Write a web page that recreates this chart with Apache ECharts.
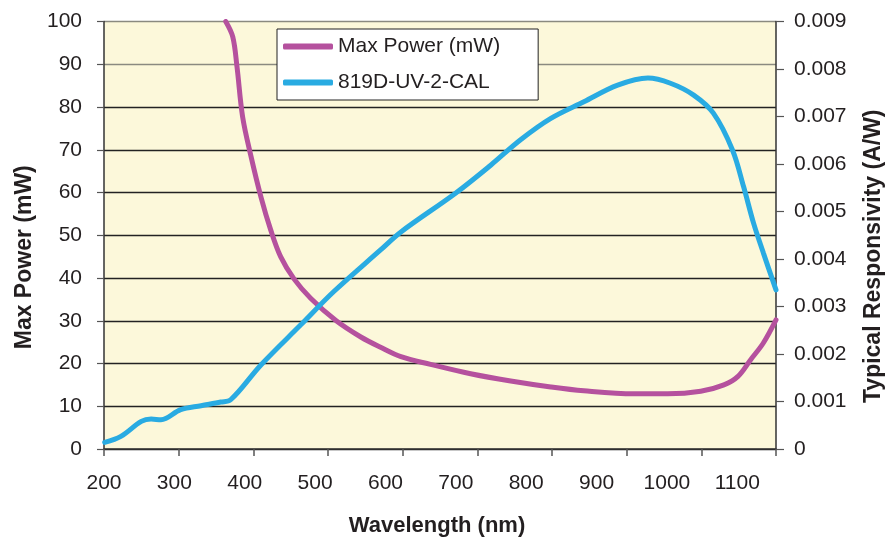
<!DOCTYPE html>
<html>
<head>
<meta charset="utf-8">
<script src="https://cdn.jsdelivr.net/npm/echarts@6/dist/echarts.min.js"></script>
<style>html,body{margin:0;padding:0;background:#fff}#c{width:893px;height:537px}</style>
</head>
<body>
<div id="c"></div>
<script>
// Wavelength (nm) samples and values
const maxPowerWavelength = [373, 383, 389, 397, 409, 423, 437, 451, 470, 494, 530, 565, 593, 622, 664, 721, 778, 835, 882, 953, 1001, 1048, 1081, 1101, 1119, 1137, 1155];
const maxPowerValues     = [100, 96.4, 89.4, 77.7, 68.4, 59.0, 51.2, 45.0, 39.8, 35.2, 30.0, 26.2, 23.8, 21.6, 19.8, 17.6, 15.9, 14.5, 13.6, 12.9, 12.9, 13.5, 15.0, 17.0, 20.9, 24.8, 30.2];

const respWavelength = [201, 224, 253, 267, 281, 309, 338, 366, 380, 423, 480, 527, 593, 622, 700, 750, 792, 835, 882, 930, 973, 1005, 1038, 1066, 1093, 1109, 1123, 1137, 1155];
const respValues     = [0.000139, 0.000265, 0.000581, 0.000631, 0.000616, 0.000827, 0.000911, 0.000989, 0.001037, 0.00177, 0.00262, 0.00332, 0.00419, 0.00457, 0.00539, 0.00598, 0.00651, 0.00696, 0.00731, 0.00766, 0.00781, 0.00770, 0.00745, 0.00707, 0.00630, 0.00552, 0.00476, 0.00413, 0.00335];

const seriesNames = ['Max Power (mW)', '819D-UV-2-CAL'];
const axisTitles = { x: 'Wavelength (nm)', left: 'Max Power (mW)', right: 'Typical Responsivity (A/W)' };

const FONT = "'Liberation Sans', Arial, sans-serif";
const TXT = '#231f20';

const chart = echarts.init(document.getElementById('c'), null, { renderer: 'canvas' });
const zip = (xs, ys) => xs.map((x, i) => [x, ys[i]]);

chart.setOption({
  animation: false,
  backgroundColor: '#ffffff',
  textStyle: { fontFamily: FONT, color: TXT },
  grid: {
    left: 104, right: 117, top: 21.5, bottom: 88,
    outerBoundsMode: 'none', containLabel: false,
    show: true, backgroundColor: '#FCF8DA', borderWidth: 0
  },
  legend: {
    orient: 'vertical',
    left: 277, top: 29,
    backgroundColor: '#ffffff',
    borderColor: '#222222', borderWidth: 1,
    padding: [5, 38, 5, 6],
    itemGap: 11,
    itemWidth: 50, itemHeight: 6,
    itemTextGap: 10,
    icon: 'roundRect',
    textStyle: { fontFamily: FONT, fontSize: 21, color: TXT, lineHeight: 25 },
    data: seriesNames
  },
  xAxis: [
    {
      type: 'value', min: 200, max: 1155, interval: 100,
      position: 'bottom',
      name: axisTitles.x, nameLocation: 'middle', nameGap: 66,
      nameTextStyle: { fontFamily: FONT, fontSize: 22, fontWeight: 'bold', color: TXT, padding: [0, 6, 0, 0] },
      axisLine: { show: true, lineStyle: { color: '#333', width: 1.5 } },
      axisTick: { show: false },
      splitLine: { show: false },
      axisLabel: { show: true, showMaxLabel: false, margin: 24, fontFamily: FONT, fontSize: 21, color: TXT,
                   formatter: v => String(v) }
    },
    {
      type: 'value', min: 0, max: 9, interval: 1,
      position: 'bottom',
      axisLine: { show: false },
      axisTick: { show: true, length: 7, lineStyle: { color: '#555', width: 1.5 } },
      axisLabel: { show: false },
      splitLine: { show: false }
    }
  ],
  yAxis: [
    {
      type: 'value', min: 0, max: 100, interval: 10,
      position: 'left',
      name: axisTitles.left, nameLocation: 'middle', nameGap: 67,
      nameTextStyle: { fontFamily: FONT, fontSize: 23, fontWeight: 'bold', color: TXT, padding: [0, 44, 0, 0] },
      axisLine: { show: true, lineStyle: { color: '#333', width: 1.5 } },
      axisTick: { show: true, length: 7, lineStyle: { color: '#555', width: 1.2 } },
      axisLabel: { margin: 22, fontFamily: FONT, fontSize: 21, color: TXT, formatter: v => String(v) },
      splitLine: { show: true, lineStyle: { color: ['#222','#222','#222','#222','#222','#222','#222','#222','#222','#8a8a80','#8a8a80'], width: 1.3 } }
    },
    {
      type: 'value', min: 0, max: 0.009, interval: 0.001,
      position: 'right',
      name: axisTitles.right, nameLocation: 'middle', nameGap: 86, nameRotate: 90,
      nameTextStyle: { fontFamily: FONT, fontSize: 23, fontWeight: 'bold', color: TXT, padding: [0, 42, 0, 0] },
      axisLine: { show: true, lineStyle: { color: '#333', width: 1.5 } },
      axisTick: { show: true, length: 8, lineStyle: { color: '#555', width: 1.2 } },
      axisLabel: {
        margin: 18, fontFamily: FONT, fontSize: 21, color: TXT,
        formatter: v => (Math.abs(v) < 1e-9 ? '0' : v.toFixed(3))
      },
      splitLine: { show: false }
    }
  ],
  series: [
    {
      name: seriesNames[0], type: 'line', xAxisIndex: 0, yAxisIndex: 0,
      data: zip(maxPowerWavelength, maxPowerValues),
      smooth: 0.35, symbol: 'none', clip: true,
      lineStyle: { color: '#B5519E', width: 5, cap: 'round' },
      itemStyle: { color: '#B5519E' }
    },
    {
      name: seriesNames[1], type: 'line', xAxisIndex: 0, yAxisIndex: 1,
      data: zip(respWavelength, respValues),
      smooth: 0.35, symbol: 'none', clip: true,
      lineStyle: { color: '#29ABE2', width: 5, cap: 'round' },
      itemStyle: { color: '#29ABE2' }
    }
  ]
});
</script>
</body>
</html>
